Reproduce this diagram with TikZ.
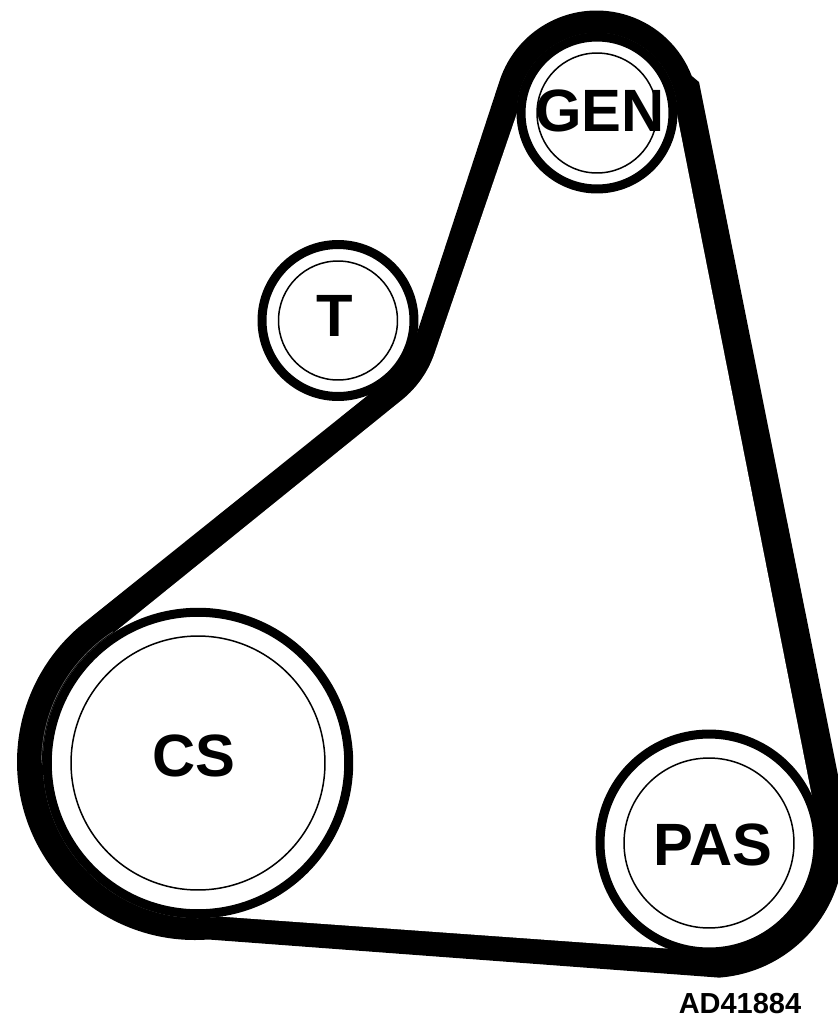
\documentclass[tikz,border=0pt]{standalone}
\usepackage{fontspec}
\setmainfont{Liberation Sans}
\tikzset{
    pulley/.style={circle,draw,fill=white,line width=0.18cm,inner sep=0pt,outer sep=0pt},
    hub/.style={circle,draw,line width=0.03cm,inner sep=0pt,outer sep=0pt},
    tag/.style={font=\bfseries\fontsize{34}{34}\selectfont,inner sep=0pt},
}

\begin{document}
\begin{tikzpicture}[x=0.02cm,y=-0.02cm]
    \useasboundingbox (0,0) rectangle (838,1025);
    \clip (0,0) rectangle (838,1025);

    % Pulley centres
    \coordinate (gen) at (597,113);
    \coordinate (idl) at (338,320.5);
    \coordinate (cs) at (198,763);
    \coordinate (pas) at (709,843);
    \coordinate (csbelt) at (195,762);

    \begin{scope} % Belt, outer edge
        \fill (417,333) -- (499.5,81) arc[start angle=-162,end angle=-21,radius=102]
            -- (699,82) -- (843,800) -- ([shift={(0:135)}]pas)
            arc[start angle=0,end angle=85.7,radius=135]
            -- ([shift={(85.7:178)}]csbelt)
            arc[start angle=85.7,end angle=231,radius=178]
            -- (367,396) -- cycle;
    \end{scope}
    \begin{scope} % Belt, inner edge
        \fill[white] ([shift={(180:80)}]gen) -- ([shift={(18.5:102)}]idl)
            arc[start angle=18.5,end angle=51,radius=102]
            -- ([shift={(237:155)}]cs)
            arc[start angle=237,end angle=82,radius=155]
            -- ([shift={(109:112)}]pas)
            arc[start angle=109,end angle=-22,radius=112]
            -- ([shift={(1:80)}]gen)
            arc[start angle=1,end angle=-180,radius=80] -- cycle;
    \end{scope}

    % Pulleys
    \node[pulley,minimum size=3.04cm] (genring) at (gen) {};
    \node[hub,minimum size=2.4cm] (genhub) at (gen) {};
    \node[pulley,minimum size=3.04cm] (idlring) at (idl) {};
    \node[hub,minimum size=2.38cm] (idlhub) at (idl) {};
    \node[pulley,minimum size=6.03cm] (csring) at (cs) {};
    \node[hub,minimum size=5.08cm] (cshub) at (cs) {};
    \node[pulley,minimum size=4.36cm] (pasring) at (pas) {};
    \node[hub,minimum size=3.4cm] (pashub) at (pas) {};

    % Seam between belt and crank pulley
    \draw[gray,line width=0.008cm] ([shift={(180:156.5)}]cs) arc[start angle=180,end angle=237,radius=156.5];

    % Labels
    \node[tag] (genlabel) at (600,111) {GEN};
    \node[tag] (idllabel) at (335,316) {T};
    \node[tag] (cslabel) at (194,756) {CS};
    \node[tag] (paslabel) at (713,845) {PAS};
    \node[font=\bfseries\fontsize{16.5}{16.5}\selectfont,inner sep=0pt] (code) at (740,1004) {AD41884};
\end{tikzpicture}
\end{document}
